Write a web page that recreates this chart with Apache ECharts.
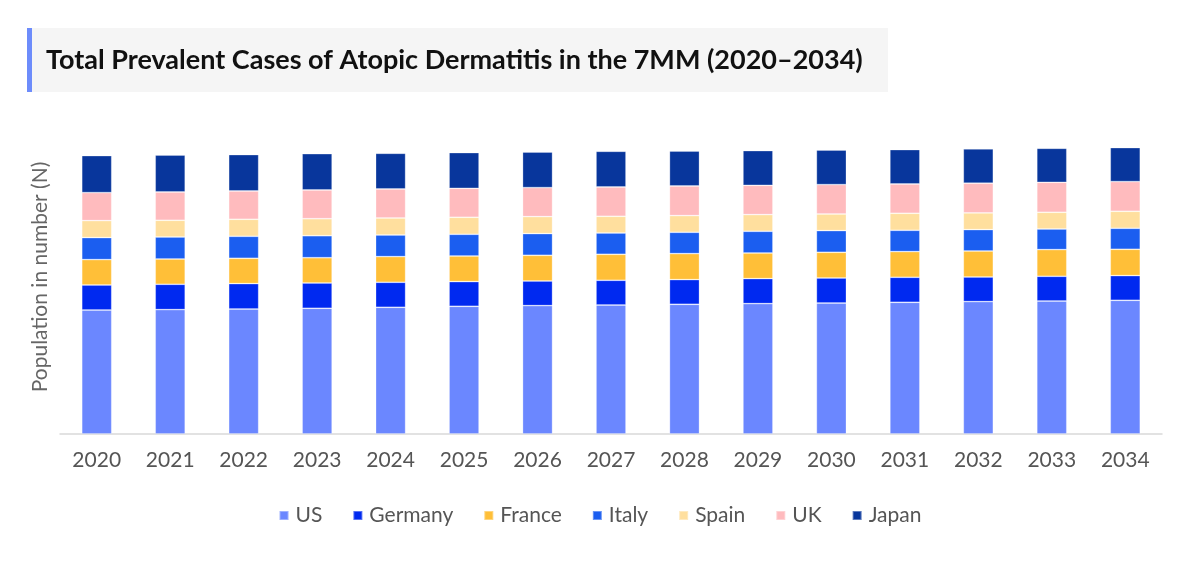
<!DOCTYPE html>
<html>
<head>
<meta charset="utf-8">
<script src="https://cdn.jsdelivr.net/npm/echarts@6/dist/echarts.min.js"></script>
<style>
  html, body { margin: 0; padding: 0; background: #fff; }
  #chart { width: 1200px; height: 570px; }
</style>
</head>
<body>
<div id="chart"></div>
<script>
const years = ['2020', '2021', '2022', '2023', '2024', '2025', '2026', '2027', '2028', '2029', '2030', '2031', '2032', '2033', '2034'];

const us      = [12400, 12440, 12500, 12570, 12670, 12770, 12840, 12900, 12970, 13040, 13100, 13170, 13240, 13300, 13370];
const germany = [2500, 2530, 2540, 2530, 2500, 2470, 2460, 2470, 2470, 2500, 2500, 2500, 2460, 2470, 2470];
const france  = [2540, 2530, 2530, 2530, 2570, 2560, 2570, 2600, 2600, 2560, 2570, 2570, 2600, 2670, 2630];
const italy   = [2200, 2200, 2200, 2200, 2160, 2170, 2170, 2130, 2130, 2170, 2170, 2130, 2140, 2060, 2100];
const spain   = [1700, 1670, 1700, 1700, 1700, 1700, 1700, 1670, 1670, 1670, 1660, 1700, 1670, 1670, 1700];
const uk      = [2800, 2830, 2830, 2870, 2900, 2900, 2900, 2930, 2960, 2930, 2940, 2930, 2970, 3000, 2970];
const japan   = [3700, 3700, 3640, 3630, 3570, 3570, 3560, 3570, 3500, 3470, 3460, 3440, 3430, 3400, 3400];

const seriesList = [
  { name: 'US', data: us, color: '#6b87ff' },
  { name: 'Germany', data: germany, color: '#0029f0' },
  { name: 'France', data: france, color: '#ffbf38' },
  { name: 'Italy', data: italy, color: '#1b5ef0' },
  { name: 'Spain', data: spain, color: '#ffdf9e' },
  { name: 'UK', data: uk, color: '#ffbbbe' },
  { name: 'Japan', data: japan, color: '#08369c' }
];

const chart = echarts.init(document.getElementById('chart'));

chart.setOption({
  animation: false,
  textStyle: { fontFamily: 'Lato, "Open Sans", sans-serif' },
  // title box with the blue bar on its left
  graphic: [
    { type: 'rect', left: 27, top: 28, shape: { width: 861, height: 64 }, style: { fill: '#f5f5f5' }, z: 0 },
    { type: 'rect', left: 27, top: 28, shape: { width: 5, height: 64 }, style: { fill: '#6d8cfb' }, z: 1 }
  ],
  title: {
    text: 'Total Prevalent Cases of Atopic Dermatitis in the 7MM (2020–2034)',
    left: 41,
    top: 42,
    textStyle: { fontFamily: 'Lato', fontWeight: 'bold', fontSize: 27, color: '#111' }
  },
  legend: {
    data: seriesList.map(s => s.name),
    left: 'center',
    top: 500,
    icon: 'rect',
    itemWidth: 9,
    itemHeight: 9,
    itemGap: 30,
    textStyle: { fontSize: 21, color: '#555', padding: [0, 0, 0, 2] }
  },
  grid: { left: 60, right: 38, top: 134, bottom: 136 },
  xAxis: {
    type: 'category',
    data: years,
    axisLine: { lineStyle: { color: '#d9d9d9', width: 1.5 } },
    axisTick: { show: false },
    axisLabel: { fontSize: 21, color: '#555', margin: 16 }
  },
  yAxis: {
    type: 'value',
    min: 0,
    max: 30000,
    name: 'Population in number (N)',
    nameLocation: 'middle',
    nameGap: 9,
    nameTextStyle: { fontSize: 21, color: '#666', padding: [0, 0, 0, 14] },
    axisLabel: { show: false },
    axisLine: { show: false },
    axisTick: { show: false },
    splitLine: { show: false }
  },
  series: seriesList.map(s => ({
    name: s.name,
    type: 'bar',
    stack: 'total',
    barWidth: 30,
    data: s.data,
    itemStyle: { color: s.color, borderColor: 'rgba(255,255,255,0.35)', borderWidth: 0.8 }
  }))
});
</script>
</body>
</html>
